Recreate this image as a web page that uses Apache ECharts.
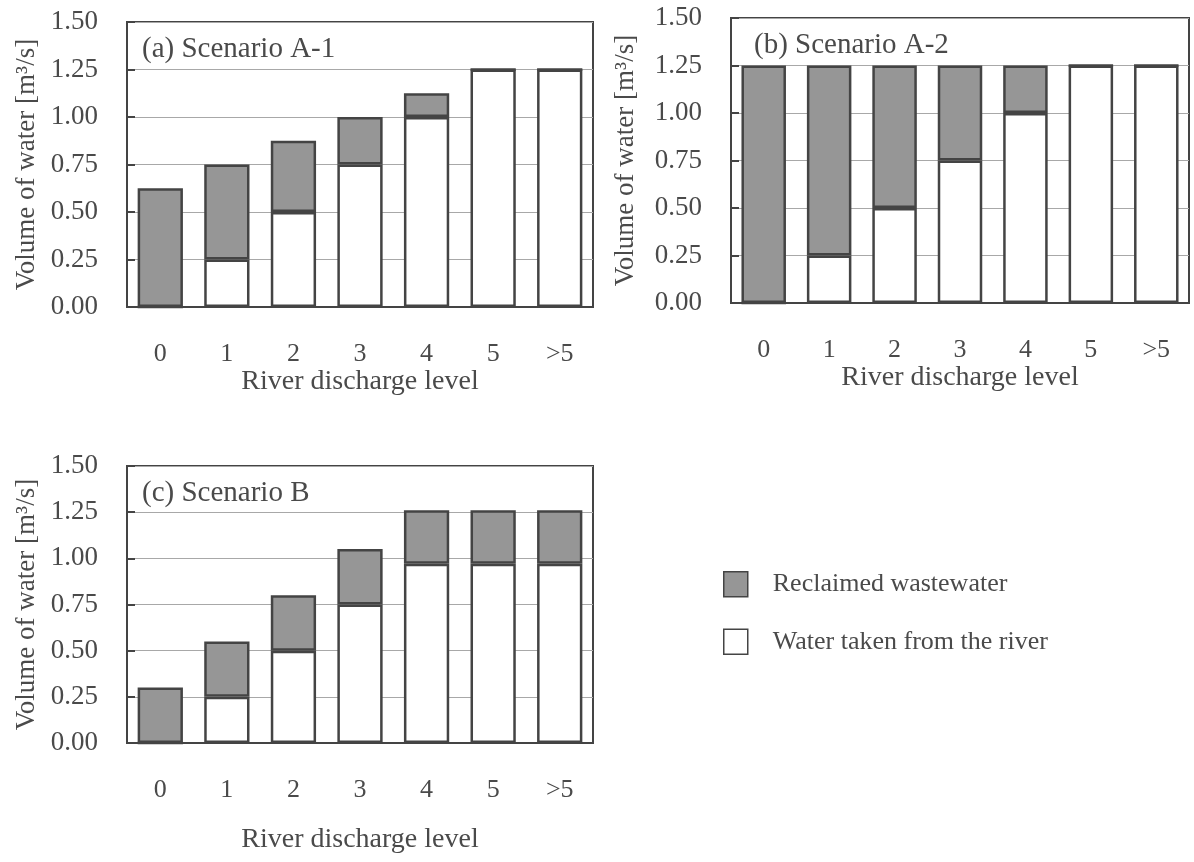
<!DOCTYPE html>
<html>
<head>
<meta charset="utf-8">
<script src="https://cdn.jsdelivr.net/npm/echarts@6/dist/echarts.min.js"></script>
<style>
  html, body { margin: 0; padding: 0; background: #fff; }
  #chart { width: 1194px; height: 862px; }
</style>
</head>
<body>
<div id="chart"></div>
<script>
// river discharge levels
var categories = ['0', '1', '2', '3', '4', '5', '>5'];

// (a) Scenario A-1
var riverA1 = [0, 0.25, 0.5, 0.75, 1.0, 1.25, 1.25];
var reclaimedA1 = [0.625, 0.5, 0.375, 0.25, 0.125, 0, 0];

// (b) Scenario A-2
var riverA2 = [0, 0.25, 0.5, 0.75, 1.0, 1.25, 1.25];
var reclaimedA2 = [1.25, 1.0, 0.75, 0.5, 0.25, 0, 0];

// (c) Scenario B
var riverB = [0, 0.25, 0.5, 0.75, 0.97, 0.97, 0.97];
var reclaimedB = [0.3, 0.3, 0.3, 0.3, 0.29, 0.29, 0.29];

var panelTitles = ['(a) Scenario A-1', '(b) Scenario A-2', '(c) Scenario B'];
var seriesNames = ['Reclaimed wastewater', 'Water taken from the river'];

var textColor = '#4a4a4a';
var edgeColor = '#444';
var grayFill = '#969696';

var myChart = echarts.init(document.getElementById('chart'));

function makeXAxis(idx, gap) {
    return {
        type: 'category',
        gridIndex: idx,
        data: categories,
        axisLine: { show: true, lineStyle: { color: edgeColor, width: 2 } },
        axisTick: { show: false },
        axisLabel: { color: textColor, fontSize: 26, margin: 34 },
        name: 'River discharge level',
        nameLocation: 'middle',
        nameGap: gap,
        nameTextStyle: { color: textColor, fontSize: 28 }
    };
}

function makeYAxis(idx, gap) {
    return {
        type: 'value',
        gridIndex: idx,
        min: 0,
        max: 1.5,
        interval: 0.25,
        axisLine: { show: true, lineStyle: { color: edgeColor, width: 2 } },
        axisTick: { show: true, inside: true, length: 8, lineStyle: { color: edgeColor, width: 2 } },
        splitLine: { show: true, lineStyle: { color: '#a8a8a8', width: 1 } },
        axisLabel: {
            color: textColor, fontSize: 27, margin: 29,
            formatter: function (v) { return v.toFixed(2); }
        },
        name: 'Volume of water [m³/s]',
        nameLocation: 'middle',
        nameRotate: 90,
        nameGap: gap,
        nameTextStyle: { color: textColor, fontSize: 27 }
    };
}

function makeBars(idx, river, reclaimed) {
    return [
        {
            name: seriesNames[1],
            type: 'bar',
            xAxisIndex: idx,
            yAxisIndex: idx,
            stack: 'total' + idx,
            barWidth: '68%',
            data: river,
            itemStyle: { color: '#fff', borderColor: edgeColor, borderWidth: 2.5 }
        },
        {
            name: seriesNames[0],
            type: 'bar',
            xAxisIndex: idx,
            yAxisIndex: idx,
            stack: 'total' + idx,
            barWidth: '68%',
            data: reclaimed,
            itemStyle: { color: grayFill, borderColor: edgeColor, borderWidth: 2.5 }
        }
    ];
}

option = {
    backgroundColor: '#fff',
    animation: false,
    textStyle: { fontFamily: 'Liberation Serif' },
    grid: [
        { left: 127, top: 22, width: 466, height: 285, show: true, borderColor: edgeColor, borderWidth: 2 },
        { left: 731, top: 18, width: 458, height: 285, show: true, borderColor: edgeColor, borderWidth: 2 },
        { left: 127, top: 466, width: 466, height: 277, show: true, borderColor: edgeColor, borderWidth: 2 }
    ],
    title: [
        { text: panelTitles[0], left: 137, top: 30, textStyle: { color: textColor, fontSize: 29, fontWeight: 'normal' } },
        { text: panelTitles[1], left: 749, top: 26, textStyle: { color: textColor, fontSize: 29, fontWeight: 'normal' } },
        { text: panelTitles[2], left: 137, top: 474, textStyle: { color: textColor, fontSize: 29, fontWeight: 'normal' } }
    ],
    legend: {
        orient: 'vertical',
        left: 718,
        top: 566,
        itemWidth: 24,
        itemHeight: 25,
        itemGap: 31,
        icon: 'rect',
        textStyle: { color: textColor, fontSize: 26, padding: [0, 0, 0, 20] },
        data: [
            { name: seriesNames[0], itemStyle: { color: grayFill, borderColor: edgeColor, borderWidth: 1.5 } },
            { name: seriesNames[1], itemStyle: { color: '#fff', borderColor: edgeColor, borderWidth: 1.5 } }
        ]
    },
    xAxis: [makeXAxis(0, 59), makeXAxis(1, 61), makeXAxis(2, 83)],
    yAxis: [makeYAxis(0, 87), makeYAxis(1, 92), makeYAxis(2, 87)],
    series: [].concat(
        makeBars(0, riverA1, reclaimedA1),
        makeBars(1, riverA2, reclaimedA2),
        makeBars(2, riverB, reclaimedB)
    )
};

myChart.setOption(option);
</script>
</body>
</html>
